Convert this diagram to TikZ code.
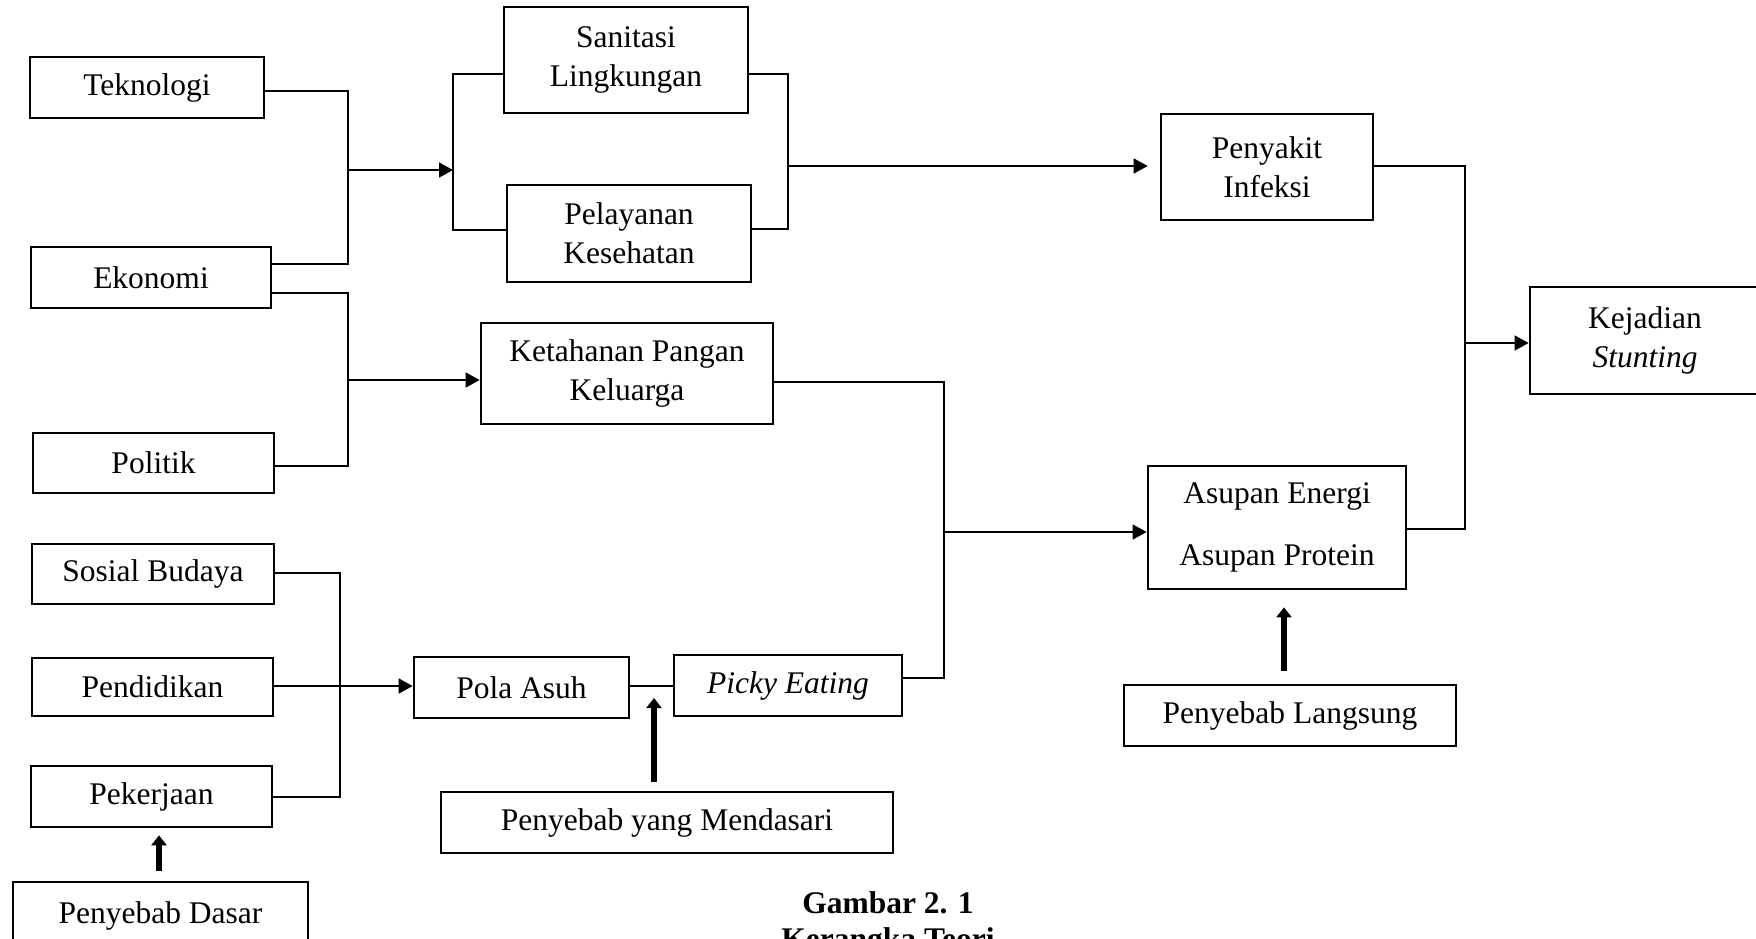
\documentclass[tikz,border=0pt]{standalone}
\usepackage{fontspec}
\setmainfont{Liberation Serif}
\usetikzlibrary{arrows.meta}
\begin{document}
\begin{tikzpicture}[x=1pt,y=-1pt,
  box/.style={draw,line width=2.7pt,inner sep=0pt,align=center,
    font=\fontsize{31.5}{39}\selectfont},
  conn/.style={line width=1.5pt},
  arr/.style={line width=1.5pt,-{Triangle[length=14pt,width=15pt]}},
  bigarr/.style={line width=6.5pt,-{Triangle[length=10pt,width=15pt]}},
  captext/.style={anchor=base,font=\fontsize{31.5}{39}\selectfont\bfseries}]
\clip (0,0) rectangle (1756,938);
\fill[white] (0,0) rectangle (1756,938);
% left column
\node[box,minimum width=234pt,minimum height=61pt] (tek) at (147,87.5) {Teknologi};
\node[box,minimum width=240pt,minimum height=61pt] (eko) at (151,277.5) {Ekonomi};
\node[box,minimum width=241pt,minimum height=60pt] (pol) at (153.5,463) {Politik};
\node[box,minimum width=242pt,minimum height=60pt] (sos) at (153,574) {Sosial Budaya};
\node[box,minimum width=241pt,minimum height=58pt] (pen) at (152.5,687) {Pendidikan};
\node[box,minimum width=241pt,minimum height=61pt] (pek) at (151.5,796.5) {Pekerjaan};
\node[box,minimum width=295pt,minimum height=68pt] (dasar) at (160.5,916) {Penyebab Dasar};
% middle column
\node[box,minimum width=244pt,minimum height=106pt] (san) at (626,60) {Sanitasi\\Lingkungan};
\node[box,minimum width=244pt,minimum height=97pt] (pel) at (629,233.5) {Pelayanan\\Kesehatan};
\node[box,minimum width=292pt,minimum height=101pt] (ket) at (627,373.5) {Ketahanan Pangan\\Keluarga};
\node[box,minimum width=215pt,minimum height=61pt] (pola) at (521.5,687.5) {Pola Asuh};
\node[box,minimum width=228pt,minimum height=61pt] (picky) at (788,685.5) {\itshape Picky Eating};
\node[box,minimum width=452pt,minimum height=61pt] (mend) at (667,822.5) {Penyebab yang Mendasari};
% right column
\node[box,minimum width=212pt,minimum height=106pt] (peny) at (1267,167) {Penyakit\\Infeksi};
\node[box,minimum width=230pt,minimum height=107pt] (kej) at (1645,340.5) {Kejadian\\\textit{Stunting}};
\node[box,minimum width=258pt,minimum height=123pt] (asu) at (1277,527.5) {Asupan Energi\\[23pt]Asupan Protein};
\node[box,minimum width=332pt,minimum height=61pt] (lang) at (1290,715.5) {Penyebab Langsung};
% caption
\node[captext] (cap1) at (888,913) {Gambar 2. 1};
\node[captext] (cap2) at (888,949) {Kerangka Teori};
% junctions
\coordinate (j1) at (348,170);
\coordinate (b1) at (453,170);
\coordinate (b2) at (788,166);
\coordinate (j2) at (348,380);
\coordinate (j3) at (944,532);
\coordinate (j4) at (1465,343);
\coordinate (j5) at (340,686);
% connectors
\draw[conn] ([yshift=-3.5pt]tek.east) -| (j1) |- ([yshift=13.5pt]eko.east);
\draw[arr] (j1) -- (b1);
\draw[conn] ([yshift=-14pt]san.west) -| (b1) |- ([yshift=3.5pt]pel.west);
\draw[conn] ([yshift=-14pt]san.east) -| (b2) |- ([yshift=4.5pt]pel.east);
\draw[arr,shorten >=12pt] (b2) -- (peny.west |- b2);
\draw[conn] ([yshift=-15.5pt]eko.east) -| (j2) |- ([yshift=-3pt]pol.east);
\draw[arr] (j2) -- (ket.west |- j2);
\draw[conn] ([yshift=-8.5pt]ket.east) -| (j3) |- ([yshift=7.5pt]picky.east);
\draw[arr] (j3) -- (asu.west |- j3);
\draw[conn] ([yshift=1pt]peny.east) -| (j4) |- ([yshift=-1.5pt]asu.east);
\draw[arr] (j4) -- (kej.west |- j4);
\draw[conn] ([yshift=1pt]sos.east) -| (j5) |- ([yshift=-0.5pt]pek.east);
\draw[arr] ([yshift=1pt]pen.east) -- (pola.west |- j5);
\draw[conn] (pola.east |- j5) -- (picky.west |- j5);
% thick arrows
\draw[bigarr,shorten <=9pt,shorten >=12pt] ([xshift=-13pt]mend.north) -- ([xshift=-13pt]mend.north |- j5);
\draw[bigarr,shorten <=10pt,shorten >=7pt] ([xshift=-1.5pt]dasar.north) -- ([xshift=-1.5pt]dasar.north |- pek.south);
\draw[bigarr,shorten <=13pt,shorten >=17pt] ([xshift=-6pt]lang.north) -- ([xshift=-6pt]lang.north |- asu.south);
\end{tikzpicture}
\end{document}
